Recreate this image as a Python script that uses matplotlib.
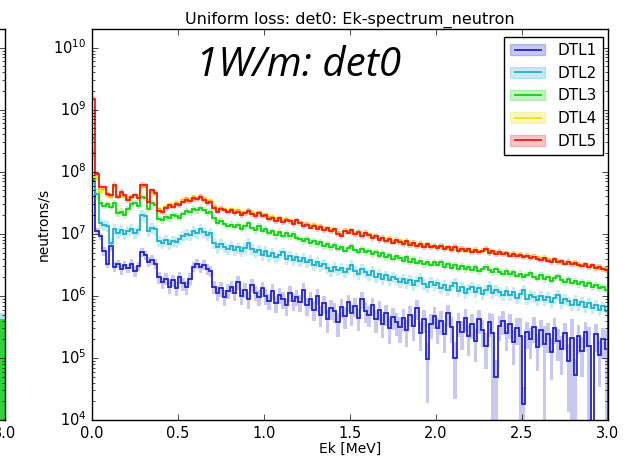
import matplotlib.pyplot as plt
import numpy as np
from matplotlib.lines import Line2D
from matplotlib.patches import Patch

plt.style.use('classic')
plt.rcParams['font.family'] = ['DejaVu Sans']

# Ek bins, 0.02 MeV wide
bin_edges = np.linspace(0.0, 3.0, 151)

names = ['DTL1', 'DTL2', 'DTL3', 'DTL4', 'DTL5']
colors = ['#2424c8', '#1fb1c6', '#12d012', '#f2e200', '#e81c1c']

# log10(neutrons/s) per bin
dtl1_log = [
    7.85, 7.05, 6.96, 6.72, 6.52, 6.80, 6.47, 6.52, 6.43, 6.50,
    6.45, 6.52, 6.40, 6.48, 6.70, 6.66, 6.55, 6.58, 6.52, 6.30,
    6.22, 6.28, 6.15, 6.25, 6.12, 6.30, 6.20, 6.14, 6.28, 6.47,
    6.52, 6.46, 6.50, 6.44, 6.40, 6.15, 6.05, 6.12, 5.98, 6.08,
    6.15, 6.05, 6.22, 6.00, 6.10, 5.95, 6.18, 6.05, 5.98, 6.12,
    6.00, 5.92, 6.08, 5.88, 6.02, 5.95, 5.85, 6.05, 5.92, 5.98,
    5.90, 6.10, 5.85, 5.95, 5.78, 6.00, 5.70, 5.88, 5.62, 5.80,
    5.75, 5.58, 5.82, 5.68, 5.90, 5.72, 5.84, 5.65, 5.95, 5.76,
    5.70, 5.85, 5.62, 5.78, 5.55, 5.72, 5.48, 5.66, 5.58, 5.50,
    5.64, 5.45, 5.70, 5.52, 5.80, 5.40, 5.62, 4.98, 5.55, 5.68,
    5.48, 5.60, 5.38, 5.72, 5.50, 5.00, 5.58, 5.42, 5.65, 5.35,
    5.55, 5.28, 5.62, 5.45, 5.20, 5.58, 5.40, 4.70, 5.52, 5.60,
    5.40, 5.55, 5.25, 5.48, 5.35, 4.25, 5.42, 5.30, 5.50, 5.18,
    5.45, 5.22, 5.38, 5.10, 5.48, 5.28, 5.15, 5.40, 4.95, 5.32,
    4.72, 5.35, 5.12, 5.42, 5.20, 0.00, 5.38, 5.05, 5.30, 5.15,
]
dtl2_log = [
    8.30, 7.65, 7.18, 7.14, 7.12, 6.85, 7.08, 7.02, 7.06, 7.00,
    7.04, 7.08, 7.01, 7.06, 7.30, 7.28, 7.05, 7.10, 7.07, 6.88,
    6.86, 6.90, 6.84, 6.89, 6.87, 6.92, 6.97, 7.00, 6.98, 7.05,
    7.02, 7.08, 7.03, 6.98, 7.01, 6.85, 6.78, 6.83, 6.79, 6.76,
    6.80, 6.74, 6.78, 6.72, 6.77, 6.86, 6.75, 6.70, 6.74, 6.66,
    6.72, 6.65, 6.69, 6.62, 6.66, 6.70, 6.60, 6.64, 6.58, 6.62,
    6.56, 6.61, 6.54, 6.58, 6.50, 6.55, 6.48, 6.52, 6.45, 6.40,
    6.47, 6.41, 6.45, 6.38, 6.44, 6.50, 6.40, 6.36, 6.43, 6.38,
    6.34, 6.40, 6.30, 6.36, 6.28, 6.33, 6.25, 6.31, 6.27, 6.22,
    6.28, 6.21, 6.26, 6.18, 6.24, 6.29, 6.19, 6.15, 6.22, 6.17,
    6.20, 6.13, 6.18, 6.10, 6.16, 6.21, 6.08, 6.14, 6.05, 6.11,
    6.14, 6.07, 6.12, 6.03, 6.09, 6.16, 6.04, 6.10, 6.06, 6.01,
    6.08, 6.02, 6.06, 5.97, 6.03, 6.09, 5.95, 6.01, 5.98, 5.93,
    6.00, 5.94, 5.98, 5.90, 5.96, 6.02, 5.88, 5.95, 5.91, 5.86,
    5.93, 5.85, 5.90, 5.82, 5.88, 5.80, 5.86, 5.78, 5.83, 5.76,
]
dtl3_log = [
    8.55, 7.90, 7.50, 7.45, 7.48, 7.44, 7.50, 7.33, 7.36, 7.30,
    7.40, 7.48, 7.50, 7.45, 7.60, 7.58, 7.40, 7.50, 7.46, 7.24,
    7.22, 7.27, 7.25, 7.30, 7.28, 7.26, 7.32, 7.37, 7.35, 7.40,
    7.38, 7.42, 7.39, 7.34, 7.36, 7.25, 7.18, 7.20, 7.16, 7.13,
    7.15, 7.11, 7.14, 7.08, 7.12, 7.17, 7.10, 7.06, 7.13, 7.05,
    7.08, 7.02, 7.05, 6.98, 7.03, 6.97, 7.01, 6.96, 6.99, 6.94,
    6.92, 6.88, 6.91, 6.85, 6.89, 6.83, 6.87, 6.80, 6.84, 6.78,
    6.82, 6.76, 6.79, 6.73, 6.77, 6.80, 6.74, 6.71, 6.76, 6.70,
    6.73, 6.67, 6.71, 6.65, 6.69, 6.62, 6.66, 6.60, 6.64, 6.61,
    6.57, 6.62, 6.55, 6.59, 6.53, 6.57, 6.51, 6.55, 6.50, 6.54,
    6.50, 6.54, 6.47, 6.51, 6.45, 6.49, 6.44, 6.48, 6.43, 6.46,
    6.42, 6.46, 6.40, 6.44, 6.47, 6.41, 6.38, 6.43, 6.39, 6.36,
    6.40, 6.35, 6.38, 6.32, 6.36, 6.30, 6.34, 6.37, 6.31, 6.28,
    6.33, 6.27, 6.30, 6.24, 6.29, 6.32, 6.25, 6.22, 6.27, 6.21,
    6.24, 6.19, 6.23, 6.16, 6.21, 6.14, 6.18, 6.12, 6.15, 6.10,
]
dtl4_log = [
    8.95, 7.90, 7.68, 7.70, 7.62, 7.60, 7.76, 7.61, 7.66, 7.60,
    7.57, 7.58, 7.63, 7.60, 7.76, 7.75, 7.54, 7.68, 7.64, 7.40,
    7.38, 7.44, 7.47, 7.46, 7.50, 7.47, 7.54, 7.57, 7.55, 7.59,
    7.58, 7.61, 7.57, 7.52, 7.53, 7.45, 7.38, 7.42, 7.40, 7.37,
    7.40, 7.36, 7.38, 7.33, 7.35, 7.38, 7.34, 7.31, 7.35, 7.31,
    7.31, 7.27, 7.27, 7.24, 7.26, 7.22, 7.24, 7.22, 7.19, 7.23,
    7.19, 7.15, 7.16, 7.13, 7.14, 7.11, 7.12, 7.09, 7.10, 7.07,
    7.06, 7.03, 7.00, 7.04, 7.04, 7.05, 7.02, 7.02, 7.00, 7.01,
    6.99, 6.96, 6.95, 6.93, 6.93, 6.91, 6.91, 6.89, 6.89, 6.88,
    6.86, 6.87, 6.85, 6.85, 6.83, 6.83, 6.82, 6.82, 6.80, 6.80,
    6.79, 6.79, 6.78, 6.77, 6.77, 6.77, 6.75, 6.75, 6.75, 6.74,
    6.73, 6.73, 6.73, 6.72, 6.74, 6.72, 6.71, 6.71, 6.70, 6.70,
    6.69, 6.68, 6.67, 6.67, 6.66, 6.65, 6.64, 6.64, 6.63, 6.63,
    6.61, 6.60, 6.60, 6.58, 6.58, 6.57, 6.55, 6.55, 6.54, 6.54,
    6.52, 6.52, 6.50, 6.50, 6.48, 6.48, 6.46, 6.46, 6.44, 6.43,
]
dtl5_log = [
    9.18, 7.97, 7.76, 7.75, 7.64, 7.62, 7.79, 7.60, 7.68, 7.62,
    7.55, 7.60, 7.62, 7.58, 7.79, 7.78, 7.52, 7.70, 7.66, 7.37,
    7.35, 7.42, 7.46, 7.44, 7.48, 7.46, 7.52, 7.55, 7.53, 7.58,
    7.56, 7.60, 7.55, 7.50, 7.52, 7.42, 7.36, 7.40, 7.38, 7.35,
    7.38, 7.34, 7.36, 7.30, 7.33, 7.37, 7.32, 7.28, 7.33, 7.29,
    7.30, 7.24, 7.26, 7.21, 7.25, 7.19, 7.23, 7.20, 7.16, 7.22,
    7.17, 7.12, 7.15, 7.10, 7.13, 7.08, 7.11, 7.06, 7.09, 7.04,
    7.07, 7.00, 6.96, 7.05, 7.02, 7.06, 6.99, 7.03, 6.97, 7.02,
    6.98, 6.93, 6.97, 6.90, 6.94, 6.88, 6.92, 6.86, 6.90, 6.87,
    6.84, 6.89, 6.82, 6.86, 6.80, 6.84, 6.79, 6.83, 6.78, 6.81,
    6.77, 6.81, 6.75, 6.78, 6.74, 6.79, 6.72, 6.76, 6.73, 6.75,
    6.71, 6.74, 6.70, 6.73, 6.76, 6.69, 6.72, 6.68, 6.71, 6.67,
    6.69, 6.65, 6.68, 6.64, 6.66, 6.62, 6.65, 6.61, 6.63, 6.60,
    6.58, 6.61, 6.57, 6.55, 6.59, 6.54, 6.56, 6.52, 6.55, 6.51,
    6.53, 6.50, 6.48, 6.51, 6.47, 6.49, 6.45, 6.47, 6.43, 6.42,
]

# relative statistical error (band = value * (1 -/+ err))
dtl1_err = [
    0.10, 0.12, 0.14, 0.15, 0.16, 0.15, 0.17, 0.16, 0.18, 0.17,
    0.18, 0.17, 0.19, 0.18, 0.16, 0.17, 0.18, 0.18, 0.19, 0.22,
    0.22, 0.21, 0.24, 0.22, 0.25, 0.21, 0.23, 0.25, 0.22, 0.19,
    0.18, 0.19, 0.18, 0.20, 0.21, 0.25, 0.27, 0.26, 0.29, 0.27,
    0.25, 0.27, 0.24, 0.28, 0.26, 0.30, 0.25, 0.27, 0.29, 0.26,
    0.28, 0.30, 0.27, 0.31, 0.28, 0.30, 0.33, 0.28, 0.31, 0.29,
    0.31, 0.27, 0.33, 0.30, 0.35, 0.29, 0.37, 0.32, 0.40, 0.34,
    0.36, 0.42, 0.33, 0.38, 0.31, 0.37, 0.33, 0.39, 0.30, 0.36,
    0.37, 0.32, 0.40, 0.35, 0.42, 0.37, 0.45, 0.38, 0.41, 0.44,
    0.39, 0.46, 0.37, 0.44, 0.34, 0.49, 0.40, 0.80, 0.43, 0.38,
    0.45, 0.41, 0.50, 0.37, 0.44, 0.78, 0.42, 0.48, 0.40, 0.52,
    0.43, 0.55, 0.41, 0.47, 0.58, 0.42, 1.00, 0.85, 0.44, 0.41,
    0.48, 0.43, 0.56, 0.46, 1.00, 0.90, 0.47, 0.52, 0.44, 0.60,
    0.46, 1.00, 0.50, 0.65, 0.45, 0.53, 0.62, 0.47, 0.85, 1.00,
    0.85, 0.49, 0.63, 0.45, 1.00, 0.00, 0.48, 0.70, 0.51, 1.00,
]
dtl2_err = 0.20
dtl3_err = 0.12
dtl4_err = 0.12
dtl5_err = 0.10

# right end of the neighbouring panel that is cut off at the left
left_edges = [2.94, 2.97, 3.00]
left_dtl2_log = [5.78, 5.72]
left_dtl3_log = [5.58, 5.62]

series = [dtl1_log, dtl2_log, dtl3_log, dtl4_log, dtl5_log]
errors = [dtl1_err, dtl2_err, dtl3_err, dtl4_err, dtl5_err]

fig = plt.figure(figsize=(6.23, 4.59), dpi=100)
fig.patch.set_facecolor('white')


def style_axes(a):
    a.set_yscale('log')
    a.set_xlim(0, 3)
    a.set_ylim(1e4, 2e10)
    a.tick_params(labelsize=10.5)


# only its right edge shows
axl = fig.add_axes([(5 - 516) / 623, 39 / 459, 516 / 623, 391 / 459])
style_axes(axl)
axl.set_xticks([3.0])
axl.set_xticklabels(['3.0'])
axl.tick_params(labelleft=False)
axl.stairs(10 ** np.array(left_dtl2_log), left_edges, baseline=1.0, fill=True,
           color=colors[1], alpha=0.35, lw=0)
axl.stairs(10 ** np.array(left_dtl3_log), left_edges, baseline=1.0, fill=True,
           color=colors[2], alpha=0.8, lw=0)

ax = fig.add_axes([92 / 623, 39 / 459, 516 / 623, 391 / 459])
style_axes(ax)
ax.set_xticks([0, 0.5, 1.0, 1.5, 2.0, 2.5, 3.0])

handles = []
for name, vals, err, c in zip(names, series, errors, colors):
    v = 10 ** np.array(vals)
    e = np.array(err) if np.ndim(err) else np.full(len(v), err)
    lower = np.clip(v * (1 - e), 1.0, None)
    upper = np.clip(v * (1 + e), 1.0, None)
    ax.stairs(upper, bin_edges, baseline=lower, fill=True, color=c, alpha=0.25, lw=0)
    ax.stairs(v, bin_edges, color=c, lw=1.3)
    handles.append((Patch(facecolor=c, edgecolor=c, alpha=0.25),
                    Line2D([], [], color=c, lw=1.3)))

ax.legend(handles, names, loc='upper right', fontsize=11, handlelength=2.3,
          bbox_to_anchor=(603 / 623, 1 - 37 / 459), bbox_transform=fig.transFigure,
          borderaxespad=0, labelspacing=0.5)

ax.set_title('Uniform loss: det0: Ek-spectrum_neutron', fontsize=11.5, pad=4)
ax.set_xlabel('Ek [MeV]', fontsize=10, labelpad=1)
ax.set_ylabel('neutrons/s', fontsize=10, labelpad=2)

fig.text(299 / 623, 1 - 66 / 459, '1W/m: det0', ha='center', va='center',
         fontsize=29, style='italic', family=['Open Sans', 'DejaVu Sans'])

fig.savefig('out.png', dpi=100)
